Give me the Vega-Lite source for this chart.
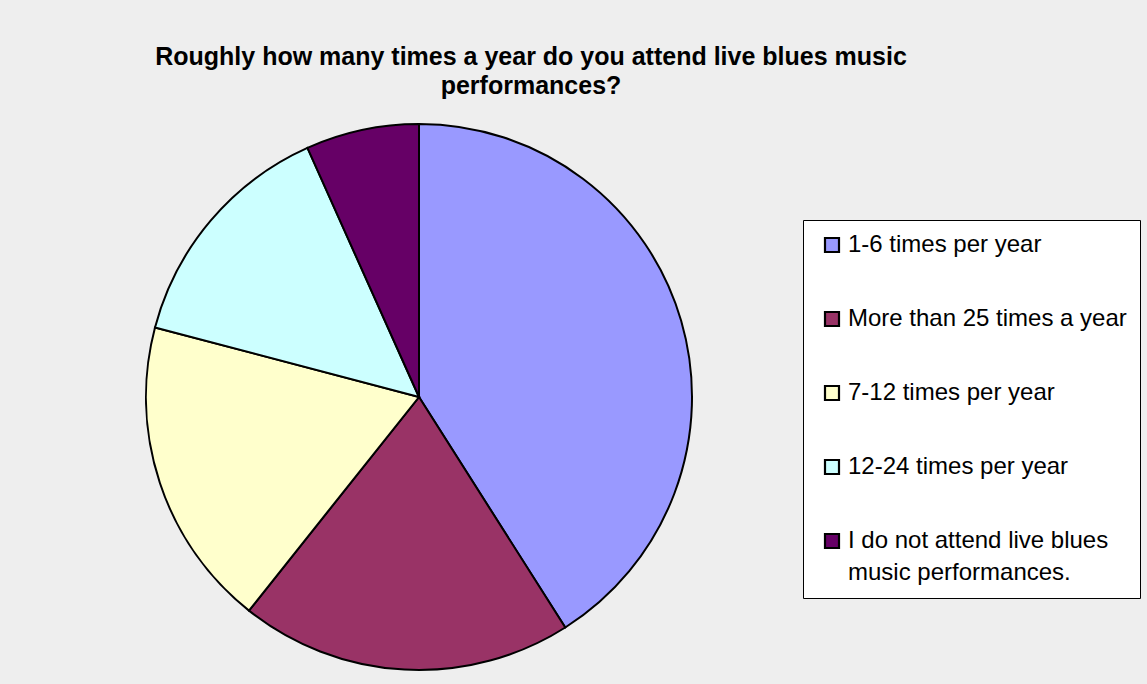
{
  "$schema": "https://vega.github.io/schema/vega-lite/v6.json",
  "autosize": {"type": "none"},
  "padding": {"left": 146, "top": 124, "right": 455, "bottom": 14},
  "width": 546,
  "height": 546,
  "background": "#eeeeee",
  "title": {
    "text": ["Roughly how many times a year do you attend live blues music", "performances?"],
    "anchor": "middle",
    "dx": 112,
    "offset": 21,
    "font": "Liberation Sans",
    "fontSize": 25,
    "fontWeight": "bold",
    "color": "#000000",
    "lineHeight": 29
  },
  "data": {
    "values": [
      {"category": "1-6 times per year", "percent": 41.0},
      {"category": "More than 25 times a year", "percent": 19.7},
      {"category": "7-12 times per year", "percent": 18.4},
      {"category": "12-24 times per year", "percent": 14.2},
      {"category": "I do not attend live blues music performances.", "percent": 6.7}
    ]
  },
  "mark": {"type": "arc", "stroke": "#000000", "strokeWidth": 2, "outerRadius": 273},
  "encoding": {
    "theta": {"field": "percent", "type": "quantitative", "stack": true},
    "order": {"field": "percent", "type": "quantitative", "sort": "descending"},
    "color": {
      "field": "category",
      "type": "nominal",
      "sort": ["1-6 times per year", "More than 25 times a year", "7-12 times per year", "12-24 times per year", "I do not attend live blues music performances."],
      "scale": {
        "domain": ["1-6 times per year", "More than 25 times a year", "7-12 times per year", "12-24 times per year", "I do not attend live blues music performances."],
        "range": ["#9999FF", "#993366", "#FFFFCC", "#CCFFFF", "#660066"]
      },
      "legend": {
        "orient": "none",
        "legendX": 657,
        "legendY": 96,
        "title": null,
        "fillColor": "#ffffff",
        "strokeColor": "#000000",
        "padding": 13,
        "symbolOffset": 4,
        "symbolType": "square",
        "symbolSize": 196,
        "symbolStrokeColor": "#000000",
        "symbolStrokeWidth": 2.2,
        "labelFont": "Liberation Sans",
        "labelFontSize": 24,
        "labelColor": "#000000",
        "labelOffset": 4,
        "labelLimit": 500,
        "rowPadding": 50,
        "labelExpr": "datum.label == 'I do not attend live blues music performances.' ? ['I do not attend live blues', 'music performances.'] : datum.label",
        "encode": {
          "labels": {
            "update": {
              "lineHeight": {"value": 32}
            }
          }
        }
      }
    }
  }
}
